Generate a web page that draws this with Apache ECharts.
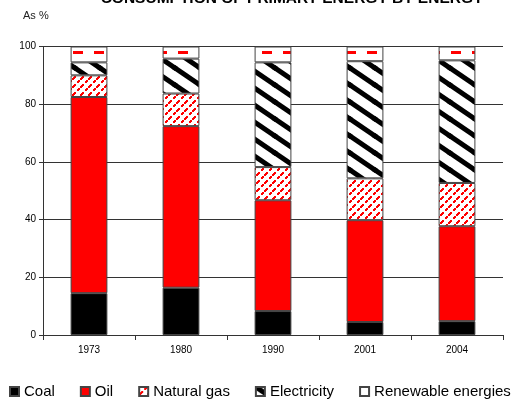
<!DOCTYPE html>
<html>
<head>
<meta charset="utf-8">
<script src="https://cdn.jsdelivr.net/npm/echarts@6/dist/echarts.min.js"></script>
<style>
  html, body { margin: 0; padding: 0; background: #fff; }
  #chart { width: 513px; height: 399px; }
</style>
</head>
<body>
<div id="chart"></div>
<script>
// Primary energy consumption shares, percent of total
const years = ['1973', '1980', '1990', '2001', '2004'];
const coal = [14.5, 16.4, 8.3, 4.5, 4.8];
const oil = [68.0, 56.0, 38.4, 35.3, 32.9];
const naturalGas = [7.5, 11.3, 11.5, 14.5, 15.0];
const electricity = [4.5, 12.1, 36.3, 40.6, 42.5];
const renewables = [5.5, 4.2, 5.5, 5.1, 4.8];
const yTicks = [0, 20, 40, 60, 80, 100];

function makeTile(w, h, draw) {
  const c = document.createElement('canvas');
  c.width = w; c.height = h;
  const ctx = c.getContext('2d');
  ctx.fillStyle = '#fff';
  ctx.fillRect(0, 0, w, h);
  draw(ctx, w, h);
  return { image: c, repeat: 'repeat' };
}

// red dashed "/" hatching
const gasFill = makeTile(8, 8, (ctx) => {
  ctx.fillStyle = '#ff0000';
  ctx.fillRect(0, 6, 2, 2);
  ctx.fillRect(1, 5, 2, 2);
  ctx.fillRect(2, 4, 2, 2);
  ctx.fillRect(5, 1, 2, 2);
  ctx.fillRect(6, 0, 2, 2);
});

// thick black "\" stripes
const elecFill = makeTile(25, 17, (ctx, w, h) => {
  ctx.strokeStyle = '#000';
  ctx.lineWidth = 5;
  const offs = [[0, 0], [0, -h], [0, h], [-w, 0], [w, 0]];
  offs.forEach(([dx, dy]) => {
    ctx.beginPath();
    ctx.moveTo(dx - 2, dy - 2 * h / w);
    ctx.lineTo(dx + w + 2, dy + h + 2 * h / w);
    ctx.stroke();
  });
});

// sparse red horizontal dashes
const renewFill = makeTile(21, 20, (ctx) => {
  ctx.fillStyle = '#ff0000';
  ctx.fillRect(10, 11, 10, 3);
});

function bar(name, data, color) {
  return {
    name: name,
    type: 'bar',
    stack: 'total',
    data: data,
    barWidth: '40%',
    itemStyle: { color: color, borderColor: '#444', borderWidth: 1 },
    emphasis: { disabled: true }
  };
}

const chart = echarts.init(document.getElementById('chart'), null, { renderer: 'canvas' });
chart.setOption({
  animation: false,
  backgroundColor: '#fff',
  title: {
    text: 'CONSUMPTION OF PRIMARY ENERGY BY ENERGY',
    left: 287,
    textAlign: 'center',
    top: -14,
    textStyle: { fontFamily: 'Liberation Sans, Arial, sans-serif', fontSize: 15.5, fontWeight: 'bold', color: '#000' }
  },
  graphic: [{
    type: 'text',
    left: 23,
    top: 10,
    style: { text: 'As %', font: '11px "Liberation Sans", Arial, sans-serif', fill: '#222' }
  }],
  grid: { left: 43, right: 10, top: 46.5, bottom: 64 },
  legend: {
    top: 384,
    left: 9,
    width: 504,
    padding: 0,
    itemWidth: 9,
    itemHeight: 9,
    itemGap: 25,
    icon: 'rect',
    textStyle: { fontFamily: 'Liberation Sans, Arial, sans-serif', fontSize: 15, color: '#000', padding: [0, 0, 0, 0] },
    data: ['Coal', 'Oil', 'Natural gas', 'Electricity', 'Renewable energies']
  },
  xAxis: {
    type: 'category',
    data: years,
    axisLine: { lineStyle: { color: '#333', width: 1 } },
    axisTick: { show: true, alignWithLabel: false, length: 5, lineStyle: { color: '#333' } },
    axisLabel: { fontFamily: 'Liberation Sans, Arial, sans-serif', fontSize: 10, color: '#000', margin: 10 }
  },
  yAxis: {
    type: 'value',
    min: yTicks[0],
    max: yTicks[yTicks.length - 1],
    interval: yTicks[1] - yTicks[0],
    axisLine: { show: true, lineStyle: { color: '#333', width: 1 } },
    axisTick: { show: true, length: 4, lineStyle: { color: '#333' } },
    axisLabel: { fontFamily: 'Liberation Sans, Arial, sans-serif', fontSize: 10, color: '#000', margin: 7 },
    splitLine: { lineStyle: { color: '#333', width: 1 } }
  },
  series: [
    bar('Coal', coal, '#000000'),
    bar('Oil', oil, '#ff0000'),
    bar('Natural gas', naturalGas, gasFill),
    bar('Electricity', electricity, elecFill),
    bar('Renewable energies', renewables, renewFill)
  ]
});
</script>
</body>
</html>
